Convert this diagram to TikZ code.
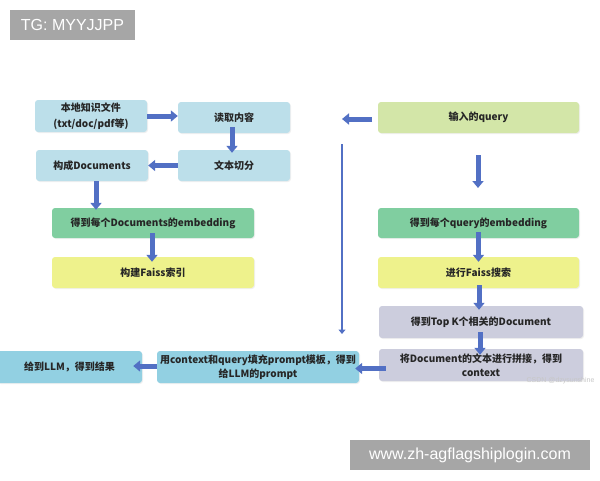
\documentclass[tikz,border=0pt]{standalone}
\usepackage{fontspec}
\setmainfont{Noto Sans CJK SC}
\newfontfamily\wmfont{Liberation Sans}
\usetikzlibrary{arrows.meta,shadows}
\definecolor{arrblue}{RGB}{82,112,196}
\definecolor{lblue}{RGB}{188,223,234}
\definecolor{mblue}{RGB}{146,208,226}
\definecolor{egreen}{RGB}{128,206,160}
\definecolor{lgreen}{RGB}{211,230,168}
\definecolor{yel}{RGB}{238,242,140}
\definecolor{gry}{RGB}{204,205,221}
\definecolor{wmgray}{RGB}{166,166,166}
\tikzset{
  box/.style={rounded corners=3pt, inner sep=0pt, align=center, font=\fontsize{10}{14}\selectfont\bfseries, text=black!85,
    drop shadow={opacity=0.12, shadow xshift=1pt, shadow yshift=-1pt}},
  arr/.style={draw=arrblue, line width=5pt, -{Triangle[width=11pt,length=7pt]}},
  thinarr/.style={draw=arrblue, line width=2.8pt, -{Triangle[width=7pt,length=4.5pt]}},
  wm/.style={fill=wmgray, text=white, inner sep=0pt, font=\wmfont\fontsize{16}{16}\selectfont}
}
\begin{document}
\begin{tikzpicture}[x=1pt,y=-1pt]
\useasboundingbox (0,0) rectangle (600,480);
% watermarks
\node[wm, minimum width=125pt, minimum height=30pt] (tg) at (72.5,25) {TG: MYYJJPP};
\node[wm, minimum width=240pt, minimum height=30pt] (url) at (470,455) {www.zh-agflagshiplogin.com};
% left column
\node[box, fill=lblue, minimum width=112pt, minimum height=32pt, font=\fontsize{10}{15.5}\selectfont\bfseries] (src) at (91,116) {本地知识文件\\(txt/doc/pdf等)};
\node[box, fill=lblue, minimum width=112pt, minimum height=31pt] (read) at (234,117.5) {读取内容};
\node[box, fill=lblue, minimum width=112pt, minimum height=31pt] (split) at (234,165.5) {文本切分};
\node[box, fill=lblue, minimum width=112pt, minimum height=31pt] (docs) at (92,165.5) {构成Documents};
\node[box, fill=egreen, minimum width=202pt, minimum height=30pt] (demb) at (153,223) {得到每个Documents的embedding};
\node[box, fill=yel, minimum width=202pt, minimum height=31pt] (idx) at (153,272.5) {构建Faiss索引};
% right column
\node[box, fill=lgreen, minimum width=201pt, minimum height=31pt] (query) at (478.5,117.5) {输入的query};
\node[box, fill=egreen, minimum width=201pt, minimum height=30pt] (qemb) at (478.5,223) {得到每个query的embedding};
\node[box, fill=yel, minimum width=201pt, minimum height=31pt] (search) at (478.5,272.5) {进行Faiss搜索};
\node[box, fill=gry, minimum width=204pt, minimum height=32pt] (topk) at (481,322) {得到Top K个相关的Document};
\node[box, fill=gry, minimum width=204pt, minimum height=32pt] (cat) at (481,365) {将Document的文本进行拼接，得到\\context};
% bottom row
\node[box, fill=mblue, minimum width=202pt, minimum height=32pt] (prompt) at (258,367) {用context和query填充prompt模板，得到\\给LLM的prompt};
\node[box, fill=mblue, minimum width=145pt, minimum height=32pt] (llm) at (69.5,367) {给到LLM，得到结果};
\node[font=\wmfont\fontsize{7}{7}\selectfont, text=black!22, anchor=east] (csdn) at (598,381) {CSDN @dzysunshine};
% coordinates
\coordinate (qa) at (372,119);
\coordinate (qb) at (342,119);
\coordinate (va) at (342,144);
\coordinate (vb) at (342,334);
\coordinate (da) at (478,155);
\coordinate (db) at (478,188);
% left arrows
\draw[arr] (src.east) -- (src.east -| read.west);
\draw[arr] ([xshift=-2pt,yshift=6pt]read.south) -- ([xshift=-2pt,yshift=-3pt]split.north);
\draw[arr] (split.west) -- (docs.east);
\draw[arr] ([xshift=4pt]docs.south) -- ([xshift=4pt,yshift=-2pt]docs.south |- demb.north);
\draw[arr] ([xshift=-1pt,yshift=5pt]demb.south) -- ([xshift=-1pt,yshift=-5pt]idx.north);
% right arrows
\draw[arr] (qa) -- (qb);
\draw[thinarr] (va) -- (vb);
\draw[arr] (da) -- (db);
\draw[arr] ([yshift=6pt]qemb.south) -- ([yshift=-5pt]search.north);
\draw[arr] ([xshift=0.5pt,yshift=3pt]search.south) -- ([xshift=0.5pt,yshift=-4pt]search.south |- topk.north);
\draw[arr] ([xshift=-1pt,yshift=6pt]topk.south) -- ([xshift=-1pt,yshift=-6pt]cat.north);
\draw[arr] ([xshift=7pt,yshift=-3.5pt]cat.west) -- ([xshift=-4pt,yshift=-3.5pt]cat.west -| prompt.east);
\draw[arr] ([yshift=1pt]prompt.west) -- ([xshift=-9pt,yshift=1pt]prompt.west -| llm.east);
\end{tikzpicture}
\end{document}
